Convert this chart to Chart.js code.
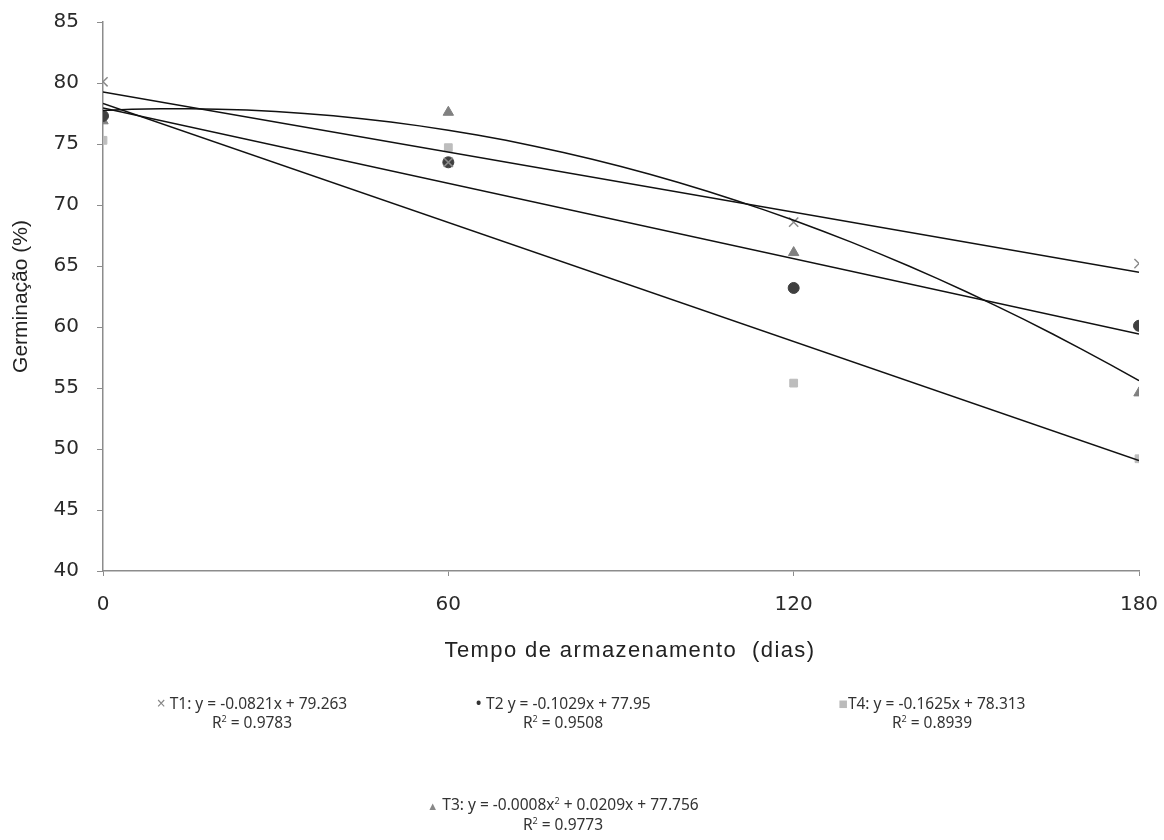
<!DOCTYPE html>
<html>
<head>
<meta charset="utf-8">
<script src="https://cdn.jsdelivr.net/npm/chart.js@4.4.1/dist/chart.umd.min.js"></script>
<style>
  html, body { margin: 0; padding: 0; background: #fff; }
  #wrap { position: relative; width: 1164px; height: 840px; }
  #myChart { position: absolute; left: 0; top: 0; }
  .txt { position: absolute; color: #333; white-space: nowrap; transform: translateX(-50%); }
  .eq { font-family: "Noto Sans", sans-serif; font-size: 15.5px; line-height: 19px; text-align: center; }
  .eq sup { font-size: 9px; vertical-align: 6px; line-height: 0; }
  #xtitle { font-family: "Liberation Sans", Arial, sans-serif; font-size: 22px; letter-spacing: 1.4px; left: 630px; top: 637px; color: #222; }
</style>
</head>
<body>
<div id="wrap">
  <canvas id="myChart" width="1164" height="840"></canvas>
  <div class="txt" id="xtitle">Tempo de armazenamento&nbsp; (dias)</div>
  <div class="txt eq" style="left:252px; top:694px;"><span style="color:#888">&times;</span> T1: y = -0.0821x + 79.263<br>R<sup>2</sup> = 0.9783</div>
  <div class="txt eq" style="left:563px; top:694px;"><span style="color:#333; font-size:18px; line-height:0">&bull;</span> T2 y = -0.1029x + 77.95<br>R<sup>2</sup> = 0.9508</div>
  <div class="txt eq" style="left:932px; top:694px;"><span style="color:#bbb">&#9632;</span>T4: y = -0.1625x + 78.313<br>R<sup>2</sup> = 0.8939</div>
  <div class="txt eq" style="left:563px; top:795px;"><span style="color:#888; font-size:11px">&#9650;</span> T3: y = -0.0008x<sup>2</sup> + 0.0209x + 77.756<br>R<sup>2</sup> = 0.9773</div>
</div>
<script>
document.addEventListener('DOMContentLoaded', function () {
    var ctx = document.getElementById('myChart').getContext('2d');

    // storage time (days)
    var dias = [0, 60, 120, 180];
    // germination (%)
    var t1 = [80.1, 73.5, 68.6, 65.2];
    var t2 = [77.3, 73.5, 63.2, 60.1];
    var t3 = [76.9, 77.6, 66.1, 54.6];
    var t4 = [75.3, 74.7, 55.4, 49.2];

    // trendline coefficients as printed in the legend [c, b, a] for a*x^2 + b*x + c
    var fitT1 = [79.263, -0.0821, 0];
    var fitT2 = [77.95, -0.1029, 0];
    var fitT3 = [77.756, 0.0209, -0.0008];
    var fitT4 = [78.313, -0.1625, 0];

    var yTicks = [40, 45, 50, 55, 60, 65, 70, 75, 80, 85];

    function pts(vals) {
        return dias.map(function (d, i) { return { x: d, y: vals[i] }; });
    }

    function trend(c, step) {
        var out = [];
        for (var x = 0; x <= 180; x += step) {
            out.push({ x: x, y: c[0] + c[1] * x + c[2] * x * x });
        }
        return out;
    }

    function lineSet(data) {
        return {
            type: 'line',
            data: data,
            borderColor: '#111',
            borderWidth: 1.5,
            pointRadius: 0,
            fill: false,
            tension: 0
        };
    }

    var data = {
        datasets: [
            lineSet(trend(fitT1, 180)),
            lineSet(trend(fitT2, 180)),
            lineSet(trend(fitT3, 5)),
            lineSet(trend(fitT4, 180)),
            { type: 'scatter', label: 'T1', data: pts(t1), pointStyle: 'crossRot', pointRadius: 6.5, borderColor: '#8a8a8a', borderWidth: 1.5 },
            { type: 'scatter', label: 'T2', data: pts(t2), pointStyle: 'circle', pointRadius: 5.5, backgroundColor: '#3f3f3f', borderColor: '#3f3f3f' },
            { type: 'scatter', label: 'T3', data: pts(t3), pointStyle: 'triangle', pointRadius: 6, backgroundColor: '#808080', borderColor: '#808080' },
            { type: 'scatter', label: 'T4', data: pts(t4), pointStyle: 'rect', pointRadius: 5.5, backgroundColor: '#bdbdbd', borderColor: '#bdbdbd' }
        ]
    };

    var options = {
        responsive: false,
        animation: false,
        layout: { padding: { left: 0, top: 22, right: 25, bottom: 0 } },
        plugins: { legend: { display: false }, tooltip: { enabled: false } },
        scales: {
            x: {
                type: 'linear',
                min: 0,
                max: 180,
                afterFit: function (s) { s.height = 269; s.paddingLeft = 0; s.paddingRight = 0; },
                afterBuildTicks: function (s) { s.ticks = dias.map(function (v) { return { value: v }; }); },
                grid: { drawOnChartArea: false, color: '#8c8c8c', tickLength: 5 },
                border: { color: '#8c8c8c', width: 1.5 },
                ticks: { font: { family: 'DejaVu Sans', size: 20 }, color: '#2a2a2a', padding: 17, maxRotation: 0 }
            },
            y: {
                min: 40,
                max: 85,
                afterFit: function (s) { s.width = 103; s.paddingTop = 0; s.paddingBottom = 0; },
                afterBuildTicks: function (s) { s.ticks = yTicks.map(function (v) { return { value: v }; }); },
                grid: { drawOnChartArea: false, color: '#8c8c8c', tickLength: 6 },
                border: { color: '#8c8c8c', width: 1.5 },
                ticks: { font: { family: 'DejaVu Sans', size: 20 }, color: '#2a2a2a', padding: 18 },
                title: {
                    display: true,
                    text: 'Germinação (%)',
                    font: { family: 'Liberation Sans', size: 21 },
                    color: '#222',
                    padding: { top: 9, bottom: 0 }
                }
            }
        }
    };

    var myChart = new Chart(ctx, {
        type: 'scatter',
        data: data,
        options: options
    });
});
</script>
</body>
</html>
